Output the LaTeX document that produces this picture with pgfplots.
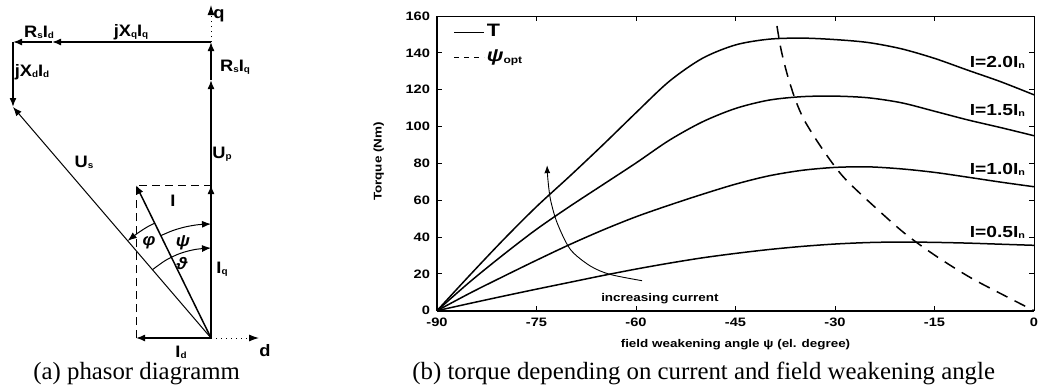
\documentclass[border=0pt]{standalone}
\usepackage{pgfplots}
\usepackage{pgfplotstable}
\pgfplotsset{compat=1.18}
\usetikzlibrary{arrows.meta}
\usepackage{fontspec}
\setmainfont{Liberation Serif}
\newfontfamily\pf{Liberation Sans}[FakeStretch=1.2]
\newfontfamily\df{Liberation Sans}[FakeStretch=1.1]
\newcommand{\lb}{\df\bfseries\fontsize{8.3}{9}\selectfont}
\newcommand{\sbs}[1]{\raisebox{-0.5pt}{\fontsize{4.5}{4.5}\selectfont #1}}

\pgfplotstableread{
psi T
-90 0
-85 19.5
-80 38.5
-75 56.5
-70 73
-65 90
-60 107.5
-55 124.5
-50 137
-45 144.3
-40 147.4
-35 148
-30 147.2
-25 145.6
-20 142.2
-15 137
-10 130.6
-5 124.3
0 117.2
}\Ttwo
\pgfplotstableread{
psi T
-90 0
-85 15.8
-80 30.4
-75 44.2
-70 56.6
-65 68.4
-60 80.2
-55 92.5
-50 102.5
-45 109.8
-40 114.3
-35 116.2
-30 116.5
-25 115.6
-20 112.9
-15 108.3
-10 103.6
-5 99.4
0 95
}\Tonefive
\pgfplotstableread{
psi T
-90 0
-85 9.6
-80 18.6
-75 27.4
-70 35.9
-65 43.8
-60 51.0
-55 57.3
-50 63.2
-45 68.7
-40 73.2
-35 76.2
-30 77.8
-25 78.1
-20 77.0
-15 75.1
-10 72.5
-5 69.8
0 67.3
}\Tone
\pgfplotstableread{
psi T
-90 0
-85 4
-80 7.9
-75 11.7
-70 15.4
-65 19.1
-60 22.6
-55 25.8
-50 28.7
-45 31.1
-40 33.2
-35 34.9
-30 36.2
-25 37
-20 37.3
-15 37.1
-10 36.7
-5 36.1
0 35.5
}\Thalf
\pgfplotstableread{
psi T
-38.75 154.6
-38.14 141.9
-37.2 128.3
-36.0 114.8
-34.7 103.9
-32.7 92.1
-30.45 80.4
-28.4 71.3
-24.7 58.6
-19.5 42
-14.7 29.5
-9.6 18
-4.6 8.5
0 0
}\Psiopt

\begin{document}
\begin{tikzpicture}[font=\pf]
% ---------- phasor diagram (pixel canvas) ----------
\begin{axis}[name=canvas, at={(0pt,0pt)}, anchor=north west, scale only axis,
  width=519.5pt, height=195.5pt, xmin=0, xmax=1039, ymin=0, ymax=391,
  y dir=reverse, hide axis, clip=false]
 \pgfplotsset{vec/.style={no marks, black, line width=0.75pt, -{Latex[length=4.5pt,width=3.5pt]}}}
 % dashed rectangle
 \addplot[no marks, black, line width=0.5pt, dash pattern=on 4pt off 2.5pt] coordinates {(136,338) (136,185) (211,185)};
 % axes q and d
 \addplot[no marks, black, line width=0.5pt, dotted, -{Latex[length=5pt,width=3.5pt]}] coordinates {(211,42) (211,5)};
 \addplot[no marks, black, line width=0.5pt, dotted, -{Latex[length=5pt,width=3.5pt]}] coordinates {(211,338) (259,338)};
 % vectors
 \addplot[vec] coordinates {(211,338) (211,80)};
 \addplot[vec] coordinates {(211,338) (211,185)};
 \addplot[vec] coordinates {(211,80) (211,42)};
 \addplot[vec] coordinates {(211,42) (52,42)};
 \addplot[vec] coordinates {(52,42) (13,42)};
 \addplot[vec] coordinates {(13,42) (13,107)};
 \addplot[vec, line width=0.5pt] coordinates {(211,338) (13,107)};
 \addplot[vec] coordinates {(211,338) (136,185)};
 \addplot[vec] coordinates {(211,338) (136,338)};
 % angle arcs
 \addplot[vec, line width=0.5pt, smooth] coordinates {(160.9,235.6) (172.9,230.5) (185.4,226.9) (198.1,224.7) (211,224)};
 \addplot[vec, line width=0.5pt, smooth] coordinates {(152.4,269.7) (166,260.1) (180.2,253.4) (195.4,249.4) (211,248)};
 \addplot[vec, line width=0.5pt, smooth] coordinates {(154.7,223.1) (147,227.1) (137.6,233.2) (127.7,240.8)};
 % labels
 \node[font=\lb] at (axis cs:39,32) {R\sbs{s}I\sbs{d}};
 \node[font=\lb] at (axis cs:131,32) {jX\sbs{q}I\sbs{q}};
 \node[font=\lb] at (axis cs:219,16) {q};
 \node[font=\lb] at (axis cs:235,67) {R\sbs{s}I\sbs{q}};
 \node[font=\lb] at (axis cs:32,72) {jX\sbs{d}I\sbs{d}};
 \node[font=\lb] at (axis cs:84,162) {U\sbs{s}};
 \node[font=\lb] at (axis cs:222,154) {U\sbs{p}};
 \node[font=\lb] at (axis cs:173,201) {I};
 \node[font=\lb\itshape] at (axis cs:149,243) {φ};
 \node[font=\lb\itshape] at (axis cs:183,243) {ψ};
 \node[font=\lb\itshape] at (axis cs:182,264) {ϑ};
 \node[font=\lb] at (axis cs:222,269) {I\sbs{q}};
 \node[font=\lb] at (axis cs:181,352) {I\sbs{d}};
 \node[font=\lb] at (axis cs:265,351) {d};
 % captions
 \node[anchor=base west, font=\rmfamily\fontsize{12.4}{14}\selectfont, inner sep=0pt] at (axis cs:33,379) {(a) phasor diagramm};
 \node[anchor=base west, font=\rmfamily\fontsize{12.4}{14}\selectfont, inner sep=0pt] at (axis cs:412,379) {(b) torque depending on current and field weakening angle};
\end{axis}
% ---------- torque plot ----------
\begin{axis}[at={(218.5pt,-155.35pt)}, anchor=south west, scale only axis,
  width=298.5pt, height=147.35pt,
  xmin=-90, xmax=0, ymin=0, ymax=160,
  xtick={-90,-75,-60,-45,-30,-15,0},
  xticklabels={-90,-75,-60,-45,-30,-15,0},
  ytick={0,20,40,60,80,100,120,140,160},
  yticklabels={0,20,40,60,80,100,120,140,160},
  tick align=inside, tick pos=both, major tick length=2.5pt,
  tick style={black, line width=0.5pt},
  axis line style={line width=0.5pt},
  tick label style={font=\pf\bfseries\fontsize{6.1}{7}\selectfont},
  clip=false,
  legend style={at={(axis cs:-87.6,157)}, anchor=north west, draw=none, fill=none,
    inner sep=0pt, row sep=2pt, font=\pf\bfseries\fontsize{9}{9}\selectfont,
    nodes={inner sep=1pt, text height=6.5pt, text depth=2pt}},
  legend cell align=left,
  legend image code/.code={\draw[#1] (0pt,0pt) -- (15pt,0pt);},
]
 \addplot[black, line width=0.75pt, no marks, smooth] table[x=psi, y=T] {\Ttwo};
 \addlegendentry{T}
 \addplot[black, line width=0.75pt, no marks, smooth, dash pattern=on 6pt off 4pt,
   legend image post style={dash pattern=on 2.5pt off 2.5pt}] table[x=psi, y=T] {\Psiopt};
 \addlegendentry{\textit{ψ}\raisebox{-1pt}{\fontsize{5}{5}\selectfont opt}}
 \addplot[black, line width=0.75pt, no marks, smooth, forget plot] table[x=psi, y=T] {\Tonefive};
 \addplot[black, line width=0.75pt, no marks, smooth, forget plot] table[x=psi, y=T] {\Tone};
 \addplot[black, line width=0.75pt, no marks, smooth, forget plot] table[x=psi, y=T] {\Thalf};
 \addplot[black, line width=0.45pt, no marks, smooth, forget plot, -{Latex[length=4pt,width=3pt]}] coordinates {(-59.1,16.3) (-63.9,19.7) (-66.9,24.3) (-69.9,33.3) (-71.9,47.8) (-72.9,60.5) (-73.3,72) (-73.4,79)};
 \draw[line width=1pt] (rel axis cs:0,0) -- (rel axis cs:1,0);
 \draw[line width=0.8pt] (rel axis cs:0,0) -- (rel axis cs:0,1);
 \node[anchor=base east, font=\pf\bfseries\fontsize{8}{8}\selectfont, inner sep=0pt] at (axis cs:-1.3,131.9) {I=2.0I\sbs{n}};
 \node[anchor=base east, font=\pf\bfseries\fontsize{8}{8}\selectfont, inner sep=0pt] at (axis cs:-1.3,106.1) {I=1.5I\sbs{n}};
 \node[anchor=base east, font=\pf\bfseries\fontsize{8}{8}\selectfont, inner sep=0pt] at (axis cs:-1.3,74.2) {I=1.0I\sbs{n}};
 \node[anchor=base east, font=\pf\bfseries\fontsize{8}{8}\selectfont, inner sep=0pt] at (axis cs:-1.3,39.6) {I=0.5I\sbs{n}};
 \node[font=\pf\bfseries\fontsize{5.6}{6}\selectfont] at (axis cs:-56.4,6.7) {increasing current};
 \node[rotate=90, font=\pf\bfseries\fontsize{5.6}{6}\selectfont] at (axis cs:-98.8,81) {Torque (Nm)};
 \node[font=\pf\bfseries\fontsize{5.6}{6}\selectfont] at (axis cs:-45,-18.6) {field weakening angle ψ (el. degree)};
\end{axis}
\pgfresetboundingbox
\useasboundingbox (0pt,0pt) rectangle (519.5pt,-195.5pt);
\end{tikzpicture}
\end{document}
